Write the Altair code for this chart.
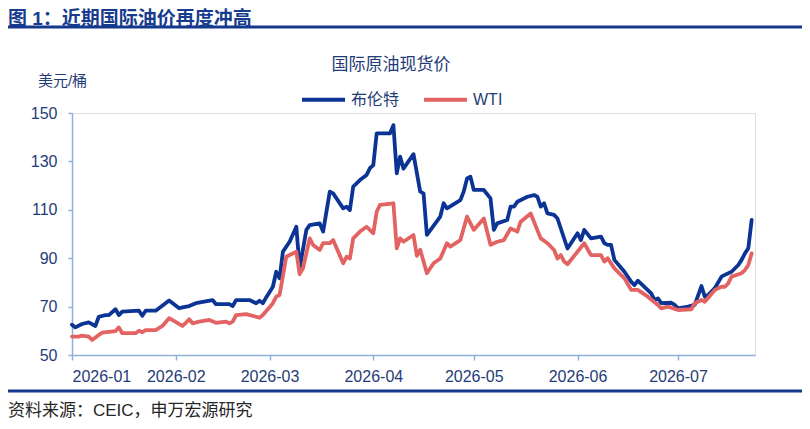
import altair as alt
import pandas as pd

FONT = "Liberation Sans, Noto Sans CJK SC"
NAVY = "#1F3C78"
AXIS_COL = "#8DB0DA"

# Brent
brent_dates = [
    "2026-01-01", "2026-01-02", "2026-01-04", "2026-01-06", "2026-01-08", "2026-01-09",
    "2026-01-11", "2026-01-12", "2026-01-14", "2026-01-15", "2026-01-16", "2026-01-21",
    "2026-01-22", "2026-01-23", "2026-01-26", "2026-01-30", "2026-02-02", "2026-02-03",
    "2026-02-05", "2026-02-07", "2026-02-12", "2026-02-13", "2026-02-17", "2026-02-18",
    "2026-02-19", "2026-02-23", "2026-02-25", "2026-02-26", "2026-02-27", "2026-02-28",
    "2026-03-02", "2026-03-03", "2026-03-04", "2026-03-05", "2026-03-07", "2026-03-09",
    "2026-03-10", "2026-03-12", "2026-03-13", "2026-03-16", "2026-03-17", "2026-03-19",
    "2026-03-20", "2026-03-23", "2026-03-24", "2026-03-25", "2026-03-26", "2026-03-28",
    "2026-03-30", "2026-03-31", "2026-04-01", "2026-04-02", "2026-04-06", "2026-04-07",
    "2026-04-08", "2026-04-09", "2026-04-10", "2026-04-13", "2026-04-15", "2026-04-16",
    "2026-04-17", "2026-04-21", "2026-04-22", "2026-04-23", "2026-04-27", "2026-04-28",
    "2026-04-29", "2026-04-30", "2026-05-01", "2026-05-04", "2026-05-06", "2026-05-07",
    "2026-05-08", "2026-05-11", "2026-05-12", "2026-05-13", "2026-05-14", "2026-05-17",
    "2026-05-19", "2026-05-20", "2026-05-21", "2026-05-22", "2026-05-23", "2026-05-25",
    "2026-05-26", "2026-05-29", "2026-06-01", "2026-06-02", "2026-06-03", "2026-06-05",
    "2026-06-08", "2026-06-09", "2026-06-10", "2026-06-11", "2026-06-12", "2026-06-15",
    "2026-06-17", "2026-06-18", "2026-06-19", "2026-06-23", "2026-06-24", "2026-06-25",
    "2026-06-26", "2026-06-29", "2026-06-30", "2026-07-01", "2026-07-04", "2026-07-06",
    "2026-07-08", "2026-07-09", "2026-07-10", "2026-07-12", "2026-07-14", "2026-07-15",
    "2026-07-17", "2026-07-19", "2026-07-20", "2026-07-21", "2026-07-22", "2026-07-23",
]
brent_vals = [
    62.5, 61.4, 62.8, 63.5, 62.0, 65.8,
    66.5, 66.5, 68.9, 66.5, 67.9, 68.3,
    66.2, 68.3, 68.3, 72.5, 69.3, 69.7,
    70.2, 71.4, 72.7, 71.0, 71.0, 70.2,
    72.7, 72.7, 71.4, 72.4, 71.4, 73.8,
    78.2, 84.4, 81.7, 92.7, 96.8, 103.0,
    85.8, 101.7, 103.7, 104.4, 101.0, 117.5,
    116.8, 110.6, 111.3, 109.9, 119.6, 122.3,
    124.4, 127.2, 128.5, 141.6, 141.6, 145.0,
    125.1, 132.0, 127.0, 133.0, 117.5, 116.8,
    99.6, 107.2, 112.7, 110.6, 114.0, 117.5,
    123.0, 123.7, 118.2, 118.2, 114.7, 101.7,
    104.4, 105.8, 111.3, 111.3, 113.3, 115.4,
    116.1, 115.4, 111.3, 112.7, 108.5, 107.9,
    106.4, 94.0, 100.3, 97.5, 101.7, 98.2,
    98.9, 96.2, 95.5, 95.5, 89.3, 84.4,
    80.3, 78.9, 80.7, 75.5, 72.7, 73.4,
    71.4, 71.6, 70.7, 69.3, 70.0, 70.7,
    78.5, 74.1, 74.8, 77.6, 82.4, 83.1,
    84.4, 87.2, 89.3, 92.0, 94.1, 105.8,
]

# WTI
wti_dates = [
    "2026-01-01", "2026-01-03", "2026-01-04", "2026-01-06", "2026-01-07", "2026-01-09",
    "2026-01-10", "2026-01-12", "2026-01-14", "2026-01-15", "2026-01-16", "2026-01-20",
    "2026-01-21", "2026-01-22", "2026-01-23", "2026-01-26", "2026-01-28", "2026-01-30",
    "2026-02-03", "2026-02-04", "2026-02-05", "2026-02-06", "2026-02-08", "2026-02-11",
    "2026-02-13", "2026-02-16", "2026-02-17", "2026-02-18", "2026-02-19", "2026-02-22",
    "2026-02-25", "2026-02-26", "2026-02-27", "2026-03-01", "2026-03-02", "2026-03-03",
    "2026-03-04", "2026-03-06", "2026-03-09", "2026-03-10", "2026-03-11", "2026-03-13",
    "2026-03-14", "2026-03-16", "2026-03-17", "2026-03-19", "2026-03-20", "2026-03-23",
    "2026-03-24", "2026-03-25", "2026-03-26", "2026-03-28", "2026-03-30", "2026-04-01",
    "2026-04-02", "2026-04-03", "2026-04-07", "2026-04-08", "2026-04-09", "2026-04-10",
    "2026-04-13", "2026-04-14", "2026-04-15", "2026-04-17", "2026-04-19", "2026-04-21",
    "2026-04-23", "2026-04-24", "2026-04-27", "2026-04-29", "2026-05-01", "2026-05-04",
    "2026-05-06", "2026-05-08", "2026-05-10", "2026-05-12", "2026-05-14", "2026-05-15",
    "2026-05-18", "2026-05-21", "2026-05-23", "2026-05-25", "2026-05-26", "2026-05-27",
    "2026-05-28", "2026-05-29", "2026-06-03", "2026-06-05", "2026-06-08", "2026-06-09",
    "2026-06-10", "2026-06-12", "2026-06-15", "2026-06-17", "2026-06-19", "2026-06-22",
    "2026-06-25", "2026-06-26", "2026-06-28", "2026-07-01", "2026-07-05", "2026-07-06",
    "2026-07-08", "2026-07-09", "2026-07-12", "2026-07-14", "2026-07-15", "2026-07-16",
    "2026-07-17", "2026-07-20", "2026-07-21", "2026-07-22", "2026-07-23",
]
wti_vals = [
    57.6, 57.6, 58.0, 57.6, 56.2, 58.3,
    59.2, 59.6, 59.9, 61.4, 59.0, 59.0,
    60.0, 59.4, 60.3, 60.3, 62.0, 65.2,
    62.0, 63.3, 64.8, 63.1, 63.8, 64.5,
    63.3, 63.8, 63.1, 63.8, 66.5, 66.9,
    65.8, 65.4, 66.5, 69.7, 71.4, 74.1,
    74.8, 90.6, 92.7, 83.4, 85.8, 98.2,
    95.5, 93.4, 96.2, 96.2, 97.5, 87.9,
    90.6, 89.9, 98.2, 101.0, 103.0, 100.3,
    109.2, 112.0, 112.7, 94.1, 98.2, 96.8,
    99.6, 91.0, 93.5, 83.8, 87.9, 89.9,
    96.2, 94.8, 97.5, 107.2, 101.7, 106.4,
    95.5, 96.8, 97.5, 102.3, 101.0, 105.1,
    108.5, 98.2, 96.2, 93.4, 89.9, 91.3,
    88.6, 87.5, 96.2, 91.3, 91.3, 88.6,
    90.0, 85.8, 81.7, 76.9, 76.9, 74.1,
    70.7, 69.3, 70.0, 68.6, 68.9, 71.4,
    72.7, 72.0, 76.9, 78.2, 78.2, 79.6,
    82.4, 83.8, 85.1, 87.2, 92.0,
]

series_names = ["布伦特", "WTI"]
series_colors = ["#0B3494", "#E36363"]
y_ticks = [50, 70, 90, 110, 130, 150]
month_ticks = [1, 2, 3, 4, 5, 6, 7]

df = pd.concat([
    pd.DataFrame({"date": brent_dates, "price": brent_vals, "series": series_names[0]}),
    pd.DataFrame({"date": wti_dates, "price": wti_vals, "series": series_names[1]}),
])

x_enc = alt.X(
    "date:T",
    scale=alt.Scale(
        type="utc",
        domain=[alt.DateTime(year=2026, month=1, date=1, utc=True),
                alt.DateTime(year=2026, month=7, date=24, utc=True)],
    ),
    axis=alt.Axis(
        values=[alt.DateTime(year=2026, month=m, date=1, utc=True) for m in month_ticks],
        format="%Y-%m", title=None, grid=False,
        labelFontSize=16, labelColor=NAVY, labelFont=FONT, labelPadding=8,
        tickSize=5, tickColor=AXIS_COL, tickWidth=1.5,
        domainColor=AXIS_COL, domainWidth=1.5,
    ),
)
y_enc = alt.Y(
    "price:Q",
    scale=alt.Scale(domain=[50, 150], nice=False, zero=False),
    axis=alt.Axis(
        values=y_ticks, grid=False,
        labelFontSize=16, labelColor=NAVY, labelFont=FONT, labelPadding=11,
        tickSize=4, tickColor=AXIS_COL, tickWidth=1.5,
        domainColor=AXIS_COL, domainWidth=1.5,
        title="美元/桶", titleAngle=0, titleAlign="center", titleBaseline="middle",
        titleX=-10, titleY=-33, titleFontSize=15, titleFontWeight="normal",
        titleColor=NAVY, titleFont=FONT,
    ),
)
color_enc = alt.Color(
    "series:N",
    scale=alt.Scale(domain=series_names, range=series_colors),
    legend=alt.Legend(
        title=None, orient="none", legendX=228, legendY=-37, direction="horizontal",
        symbolType="stroke", symbolStrokeWidth=4, symbolSize=1849,
        labelFontSize=16, labelColor=NAVY, labelFont=FONT, labelOffset=4,
        columnPadding=16, padding=0,
    ),
)

base = alt.Chart(df).mark_line(strokeWidth=3.8, strokeJoin="round", strokeCap="round").encode(
    x=x_enc, y=y_enc, color=color_enc
)
brent = base.transform_filter(alt.datum.series == series_names[0])
wti = base.transform_filter(alt.datum.series == series_names[1])


def note(text, x, y, size, color, weight="normal", align="left"):
    return alt.Chart(pd.DataFrame({"t": [text]})).mark_text(
        align=align, baseline="middle", fontSize=size, color=color,
        fontWeight=weight, font=FONT,
    ).encode(x=alt.value(x), y=alt.value(y), text="t:N")


def band(y):
    return alt.Chart(pd.DataFrame({"a": [0]})).mark_rule(color="#14398C", strokeWidth=3).encode(
        x=alt.value(-64), x2=alt.value(730), y=alt.value(y)
    )


fig_title = note("图 1：近期国际油价再度冲高", -64, -94, 19, "#173C8E", weight="bold")
chart_title = note("国际原油现货价", 319, -48, 17, NAVY, align="center")
source = note("资料来源：CEIC，申万宏源研究", -64, 298, 17, "#262626")

chart = (
    alt.layer(brent, wti, fig_title, band(-86), chart_title, band(278), source)
    .properties(
        width=683, height=242,
        autosize=alt.AutoSizeParams(type="none"),
        padding={"left": 64, "top": 105, "right": 47, "bottom": 66},
    )
    .configure_view(stroke=None)
    .configure(font=FONT)
)

chart.save("out.html", embed_options={"renderer": "svg", "actions": False})
